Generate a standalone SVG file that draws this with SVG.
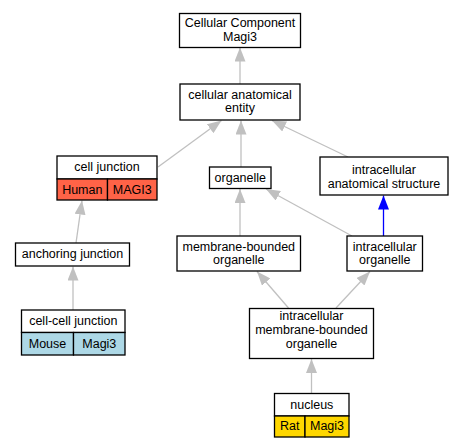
<svg xmlns="http://www.w3.org/2000/svg" width="464" height="448" viewBox="0 0 464 448">
<defs>
<style>
.box{fill:#ffffff;stroke:#000000;stroke-width:1.3}
.t{font-family:"Liberation Sans",Arial,sans-serif;font-size:12.5px;fill:#000000;text-anchor:middle}
.e{fill:none;stroke:#c0c0c0;stroke-width:1.3}
.eb{fill:none;stroke:#0000ff;stroke-width:1.3}
.human{fill:#ff6347;stroke:#000000;stroke-width:1.3}
.mouse{fill:#add8e6;stroke:#000000;stroke-width:1.3}
.rat{fill:#ffd700;stroke:#000000;stroke-width:1.3}
</style>
<marker id="ag" markerUnits="userSpaceOnUse" markerWidth="14" markerHeight="11" viewBox="0 0 14 11" refX="14" refY="5.5" orient="auto">
<path d="M0,0 L14,5.5 L0,11 z" fill="#c0c0c0"/>
</marker>
<marker id="ab" markerUnits="userSpaceOnUse" markerWidth="14" markerHeight="11" viewBox="0 0 14 11" refX="14" refY="5.5" orient="auto">
<path d="M0,0 L14,5.5 L0,11 z" fill="#0000ff"/>
</marker>
</defs>
<rect width="464" height="448" fill="#ffffff"/>
<g id="edges">
<path class="e" d="M240,84 L240,47.5" marker-end="url(#ag)"/>
<path class="e" d="M158,167 L221.5,120.5" marker-end="url(#ag)"/>
<path class="e" d="M241,167 L241,120.5" marker-end="url(#ag)"/>
<path class="e" d="M348,157 L272,120.5" marker-end="url(#ag)"/>
<path class="e" d="M76,243 L82,200.5" marker-end="url(#ag)"/>
<path class="e" d="M73,310 L73,266.5" marker-end="url(#ag)"/>
<path class="e" d="M240,236 L240,189" marker-end="url(#ag)"/>
<path class="e" d="M352,236 L266,189" marker-end="url(#ag)"/>
<path class="eb" d="M383.5,236 L383.5,195.5" marker-end="url(#ab)"/>
<path class="e" d="M288.5,308 L257,271.5" marker-end="url(#ag)"/>
<path class="e" d="M336,308 L370,271.5" marker-end="url(#ag)"/>
<path class="e" d="M311.5,393.5 L311.5,359" marker-end="url(#ag)"/>
</g>
<g id="n_ccm">
<rect class="box" x="179.5" y="13.5" width="121" height="34"/>
<text class="t" x="240" y="26.5">Cellular Component</text>
<text class="t" x="240" y="40.5">Magi3</text>
</g>
<g id="n_cae">
<rect class="box" x="180" y="84" width="120" height="36"/>
<text class="t" x="240" y="98.5">cellular anatomical</text>
<text class="t" x="240" y="112">entity</text>
</g>
<g id="n_cj">
<rect class="box" x="57" y="156" width="100" height="23"/>
<rect class="human" x="57" y="179" width="50.5" height="21"/>
<rect class="human" x="107.5" y="179" width="49.5" height="21"/>
<text class="t" x="107" y="171">cell junction</text>
<text class="t" x="82.3" y="193.5">Human</text>
<text class="t" x="132.3" y="193.5">MAGI3</text>
</g>
<g id="n_aj">
<rect class="box" x="15.5" y="243" width="114" height="23"/>
<text class="t" x="72.5" y="258">anchoring junction</text>
</g>
<g id="n_ccj">
<rect class="box" x="21.5" y="310" width="103.5" height="22.5"/>
<rect class="mouse" x="21.5" y="332.5" width="52" height="22.5"/>
<rect class="mouse" x="73.5" y="332.5" width="51.5" height="22.5"/>
<text class="t" x="73.3" y="325">cell-cell junction</text>
<text class="t" x="47.5" y="347.5">Mouse</text>
<text class="t" x="99.3" y="347.5">Magi3</text>
</g>
<g id="n_org">
<rect class="box" x="209.5" y="167" width="61.5" height="21.5"/>
<text class="t" x="240.3" y="181.5">organelle</text>
</g>
<g id="n_ias">
<rect class="box" x="320" y="157" width="128" height="38"/>
<text class="t" x="384" y="173.5">intracellular</text>
<text class="t" x="384" y="187.5">anatomical structure</text>
</g>
<g id="n_mbo">
<rect class="box" x="177" y="236" width="123.5" height="35"/>
<text class="t" x="238.8" y="250.5">membrane-bounded</text>
<text class="t" x="238.8" y="264">organelle</text>
</g>
<g id="n_io">
<rect class="box" x="347" y="236" width="75.5" height="35"/>
<text class="t" x="384.8" y="250.5">intracellular</text>
<text class="t" x="384.8" y="264">organelle</text>
</g>
<g id="n_imbo">
<rect class="box" x="249.5" y="308.5" width="124" height="50"/>
<text class="t" x="311.5" y="319.5">intracellular</text>
<text class="t" x="311.5" y="333.5">membrane-bounded</text>
<text class="t" x="311.5" y="347.5">organelle</text>
</g>
<g id="n_nuc">
<rect class="box" x="274.5" y="393.5" width="74.5" height="22.5"/>
<rect class="rat" x="274.5" y="416" width="30.5" height="21"/>
<rect class="rat" x="305" y="416" width="44" height="21"/>
<text class="t" x="311.8" y="408.5">nucleus</text>
<text class="t" x="289.8" y="430">Rat</text>
<text class="t" x="327" y="430">Magi3</text>
</g>
</svg>
